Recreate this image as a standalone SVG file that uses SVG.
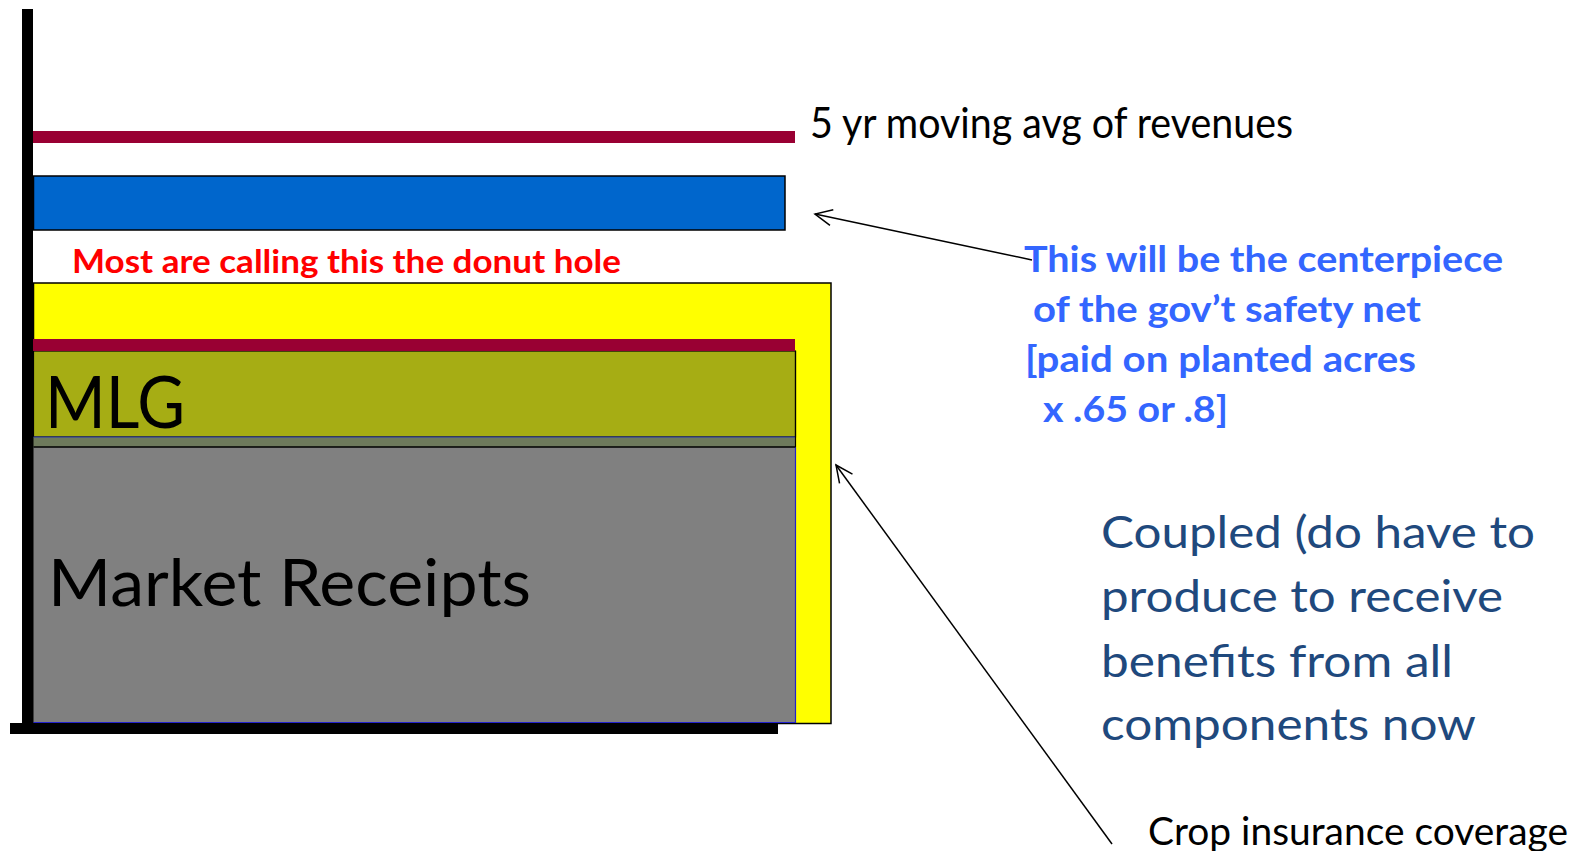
<svg xmlns="http://www.w3.org/2000/svg" width="1590" height="851" viewBox="0 0 1590 851">
<style>
.lbl{font-family:Lato,"Open Sans","Liberation Sans",sans-serif;}
.blk{fill:#000000;}
.bt{font-family:Lato,"Open Sans","Liberation Sans",sans-serif;font-weight:bold;fill:#3366FF;font-size:36px;}
.db{font-family:Lato,"Open Sans","Liberation Sans",sans-serif;fill:#1F497D;font-size:44px;}
.conn{stroke:#000;stroke-width:1.5;fill:none;}
</style>
<defs>
<marker id="arr" viewBox="0 0 20 18" refX="18" refY="9" markerWidth="20" markerHeight="18" markerUnits="userSpaceOnUse" orient="auto">
<path d="M1,1 L18,9 L1,17" fill="none" stroke="#000" stroke-width="1.5"/>
</marker>
</defs>
<rect width="1590" height="851" fill="#FFFFFF"/>

<g id="yellow-box">
<rect x="33.5" y="283" width="797.5" height="440.5" fill="#FFFF00" stroke="#000" stroke-width="1.5"/>
</g>

<g id="blue-bar">
<rect x="33.5" y="176" width="751.5" height="54" fill="#0066CC" stroke="#000" stroke-width="1.5"/>
</g>

<g id="market-receipts">
<rect x="33.5" y="447" width="762" height="275.5" fill="#808080" stroke="none"/>
<path d="M795.5,447 L795.5,722.5 L33.5,722.5" fill="none" stroke="#2222CC" stroke-width="1.2"/>
<text class="lbl" x="48" y="606" font-size="65" textLength="483" lengthAdjust="spacingAndGlyphs">Market Receipts</text>
</g>

<g id="mlg">
<rect x="33.5" y="351" width="762" height="86" fill="#A6AD14" stroke="#000" stroke-width="1.2"/>
<rect x="33.5" y="437" width="762" height="10" fill="#6E7A5C"/>
<line x1="33.5" y1="437" x2="795.5" y2="437" stroke="#2233AA" stroke-width="1.2"/>
<line x1="33.5" y1="447" x2="795.5" y2="447" stroke="#000" stroke-width="1.5"/>
<line x1="795.5" y1="351" x2="795.5" y2="447" stroke="#000" stroke-width="1.2"/>
<text class="lbl" x="45" y="428" font-size="72" textLength="140" lengthAdjust="spacingAndGlyphs">MLG</text>
</g>

<g id="maroon-lines">
<rect x="28" y="131" width="767" height="12" fill="#990033"/>
<rect x="27" y="339" width="768" height="12" fill="#990033"/>
</g>

<g id="axes">
<rect x="22" y="9" width="11" height="725" fill="#000"/>
<rect x="10" y="723" width="768" height="11" fill="#000"/>
</g>

<g id="label-donut">
<text x="72" y="273" font-family="Lato,'Open Sans','Liberation Sans',sans-serif" font-weight="bold" font-size="31.5" fill="#FF0000" textLength="549" lengthAdjust="spacingAndGlyphs">Most are calling this the donut hole</text>
</g>

<g id="label-moving-avg">
<text class="lbl" x="810" y="138" font-size="43" fill="#000" textLength="483" lengthAdjust="spacingAndGlyphs">5 yr moving avg of revenues</text>
</g>

<g id="label-centerpiece">
<text class="bt" x="1024" y="272" textLength="479" lengthAdjust="spacingAndGlyphs">This will be the centerpiece</text>
<text class="bt" x="1033" y="322" textLength="388" lengthAdjust="spacingAndGlyphs">of the gov’t safety net</text>
<text class="bt" x="1025" y="372" textLength="391" lengthAdjust="spacingAndGlyphs">[paid on planted acres</text>
<text class="bt" x="1043" y="422" textLength="185" lengthAdjust="spacingAndGlyphs">x .65 or .8]</text>
</g>

<g id="label-coupled">
<text class="db" x="1101" y="548" textLength="434" lengthAdjust="spacingAndGlyphs">Coupled (do have to</text>
<text class="db" x="1101" y="612" textLength="402" lengthAdjust="spacingAndGlyphs">produce to receive</text>
<text class="db" x="1101" y="677" textLength="352" lengthAdjust="spacingAndGlyphs">benefits from all</text>
<text class="db" x="1101" y="740" textLength="375" lengthAdjust="spacingAndGlyphs">components now</text>
</g>

<g id="label-crop">
<text class="lbl" x="1148" y="845" font-size="38" fill="#000" textLength="420" lengthAdjust="spacingAndGlyphs">Crop insurance coverage</text>
</g>

<g id="connectors">
<line class="conn" x1="1032" y1="260" x2="815" y2="214" marker-end="url(#arr)"/>
<line class="conn" x1="1112" y1="844" x2="836" y2="465" marker-end="url(#arr)"/>
</g>
</svg>
